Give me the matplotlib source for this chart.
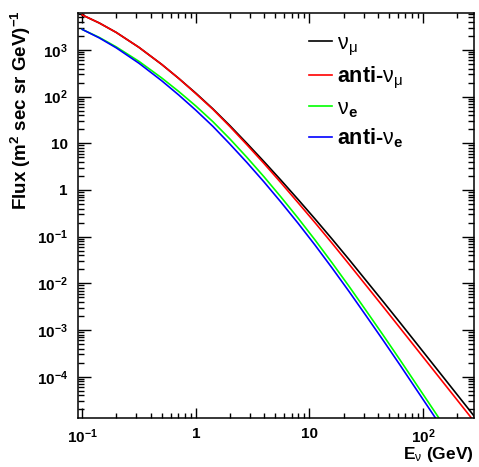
import math

import matplotlib
matplotlib.use("Agg")
import matplotlib.pyplot as plt
from matplotlib import ticker

plt.rcParams["font.family"] = ["Liberation Sans", "DejaVu Sans"]
plt.rcParams["font.weight"] = "bold"
plt.rcParams["mathtext.fontset"] = "custom"
plt.rcParams["mathtext.rm"] = "Liberation Sans:weight=normal"
plt.rcParams["mathtext.bf"] = "Liberation Sans:weight=bold"
plt.rcParams["mathtext.it"] = "Liberation Sans:style=italic"
plt.rcParams["mathtext.default"] = "bf"

# neutrino energy grid (GeV)
energy = [0.1, 0.1413, 0.1995, 0.3162, 0.5012, 0.7079, 1.0, 1.413, 1.995,
          2.818, 3.981, 5.623, 7.943, 11.22, 15.85, 22.39, 31.62, 44.67,
          63.10, 89.13, 125.9, 177.8, 251.2, 316.2]

# flux in (m^2 sec sr GeV)^-1
flux_numu = [5.62e3, 3.78e3, 2.37e3, 1.135e3, 490, 245.5, 118.9, 54.95, 23.99,
             10.0, 4.074, 1.622, 0.631, 0.2399, 8.91e-2, 3.236e-2, 1.148e-2,
             4.074e-3, 1.429e-3, 4.955e-4, 1.718e-4, 5.957e-5, 2.065e-5,
             1.012e-5]
flux_anumu = [5.62e3, 3.78e3, 2.37e3, 1.135e3, 490, 245.5, 116.1, 53.7, 22.91,
              9.333, 3.715, 1.429, 0.537, 0.1995, 7.244e-2, 2.570e-2,
              9.016e-3, 3.162e-3, 1.096e-3, 3.802e-4, 1.318e-4, 4.571e-5,
              1.585e-5, 7.762e-6]
flux_nue = [2754, 1854, 1161, 568.9, 251.2, 128.8, 63.10, 29.17, 12.45, 5.012,
            1.928, 0.7079, 0.2512, 8.511e-2, 2.754e-2, 8.610e-3, 2.600e-3,
            7.762e-4, 2.265e-4, 6.457e-5, 1.841e-5, 5.248e-6]
flux_anue = [2754, 1811, 1109, 518.8, 218.8, 108.4, 51.29, 23.17, 9.661, 3.890,
             1.496, 0.5495, 0.1950, 6.607e-2, 2.138e-2, 6.683e-3, 2.018e-3,
             6.026e-4, 1.758e-4, 5.012e-5, 1.429e-5, 4.074e-6]

labels = [r"$\mathrm{\nu_{\mu}}$", r"anti-$\mathrm{\nu_{\mu}}$",
          r"$\mathrm{\nu}_{\mathbf{e}}$", r"anti-$\mathrm{\nu}_{\mathbf{e}}$"]
colors = ["black", "red", "#00ff00", "blue"]


def root_log_label(v, pos):
    if abs(v - 1) < 1e-9:
        return "1"
    if abs(v - 10) < 1e-9:
        return "10"
    return r"$\mathbf{10^{%d}}$" % int(round(math.log10(v)))


W, H = 479, 467
fig = plt.figure(figsize=(W / 100, H / 100), dpi=100)
ax = fig.add_axes([77.7 / W, 1 - 417.6 / H, (474 - 77.7) / W, (417.6 - 13.3) / H])

series = [flux_numu, flux_anumu, flux_nue, flux_anue]
handles = []
for y, c, lab in zip(series, colors, labels):
    (ln,) = ax.plot(energy[:len(y)], y, color=c, lw=1.2, label=lab)
    handles.append(ln)

ax.set_xscale("log")
ax.set_yscale("log")
ax.set_xlim(0.0912, 282)
ax.set_ylim(1.33e-5, 6100)

for axis in (ax.xaxis, ax.yaxis):
    axis.set_major_locator(ticker.LogLocator(base=10, numticks=20))
    axis.set_minor_locator(ticker.LogLocator(base=10, subs=range(2, 10), numticks=20))
    axis.set_major_formatter(ticker.FuncFormatter(root_log_label))
    axis.set_minor_formatter(ticker.NullFormatter())

ax.tick_params(which="both", direction="in", top=True, right=True, width=1.0,
               colors="black", labelsize=11)
ax.tick_params(axis="x", which="major", length=7.5, pad=7)
ax.tick_params(axis="x", which="minor", length=3.8)
ax.tick_params(axis="y", which="major", length=9, pad=7)
ax.tick_params(axis="y", which="minor", length=4.5)
for s in ax.spines.values():
    s.set_linewidth(1.1)

# axis titles, ROOT style: y title pinned to the top, x title to the right
fig.text(21 / W, 1 - 10 / H, r"Flux (m$^{\mathbf{2}}$ sec sr GeV)$^{\mathbf{-1}}$",
         fontsize=13.5, fontweight="bold", rotation=90, ha="center", va="top")
ax.set_xlabel(r"E$_{\mathrm{\nu}}$ (GeV)", fontsize=12.5, fontweight="bold",
              loc="right", labelpad=-1)

ax.legend(handles=handles, loc="upper left", bbox_to_anchor=(309 / W, 1 - 33 / H),
          bbox_transform=fig.transFigure, frameon=False, fontsize=15.5,
          handlelength=1.05, handletextpad=0.25, labelspacing=0.33,
          borderaxespad=0, borderpad=0)

fig.savefig("out.png", dpi=100)
